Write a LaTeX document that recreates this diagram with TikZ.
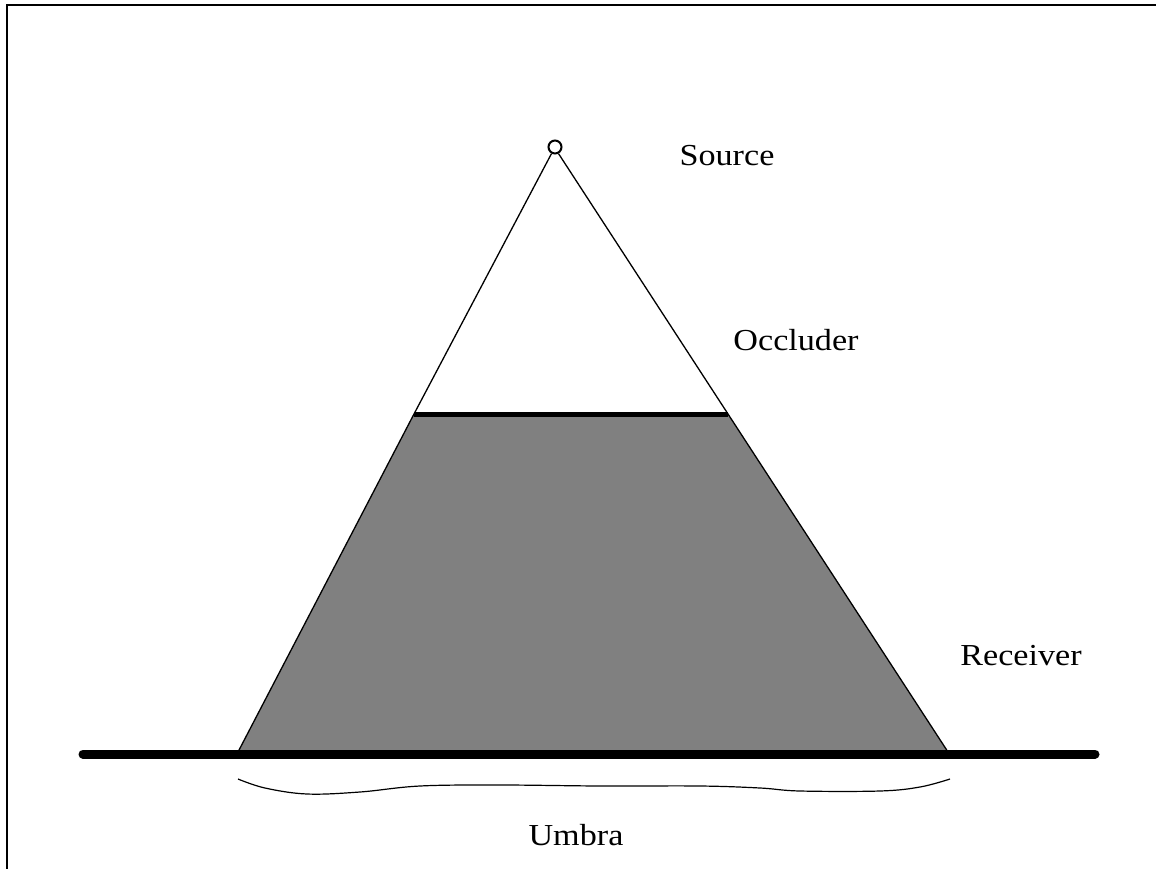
\documentclass[tikz,border=0pt]{standalone}
\usepackage{fontspec}
\newfontfamily\labfont[FakeStretch=1.12]{Liberation Serif}
\begin{document}
\begin{tikzpicture}[x=1pt,y=-1pt,
  lab/.style={font=\labfont\fontsize{30.5}{36}\selectfont, inner sep=0pt, anchor=base},
  ray/.style={line width=1.3pt},
  umbrafill/.style={fill=black!50, draw=black, line width=1.2pt}]
\useasboundingbox (0,0) rectangle (1156,869);
% frame (top and left edges)
\draw[line width=2pt] (7,869) -- (7,5) -- (1156,5);
% source
\node[circle, draw, line width=2pt, minimum size=13pt, inner sep=0pt, fill=white] (src) at (555,147) {};
\coordinate (occL) at (414,414);
\coordinate (occR) at (728,414);
\coordinate (recL) at (238,752);
\coordinate (recR) at (948,752);
\coordinate (rcvA) at (83,754);
\coordinate (rcvB) at (1095,754);
% umbra region
\fill[black!50] (occL) -- (occR) -- (recR) -- (recL) -- cycle;
\draw[ray] (occL) -- (recL);
\draw[ray] (occR) -- (recR);
% rays from source
\draw[ray] (src.-118) -- (occL);
\draw[ray] (src.-62) -- (occR);
% occluder
\draw[line width=5pt] (occL) -- (occR);
% receiver
\draw[line width=9pt, line cap=round] (rcvA) -- (rcvB);
% umbra brace
\draw[line width=1.2pt] plot[smooth, tension=0.6] coordinates {(238,779) (265,788) (307,794) (360,792) (420,786) (500,785) (600,786) (700,786) (760,788) (800,791) (880,791) (920,787) (950,779)};
% labels
\node[lab] (lsrc) at (727,166) {Source};
\node[lab] (locc) at (796,350) {Occluder};
\node[lab] (lrec) at (1021,665) {Receiver};
\node[lab] (lumb) at (576,845) {Umbra};
\end{tikzpicture}
\end{document}
